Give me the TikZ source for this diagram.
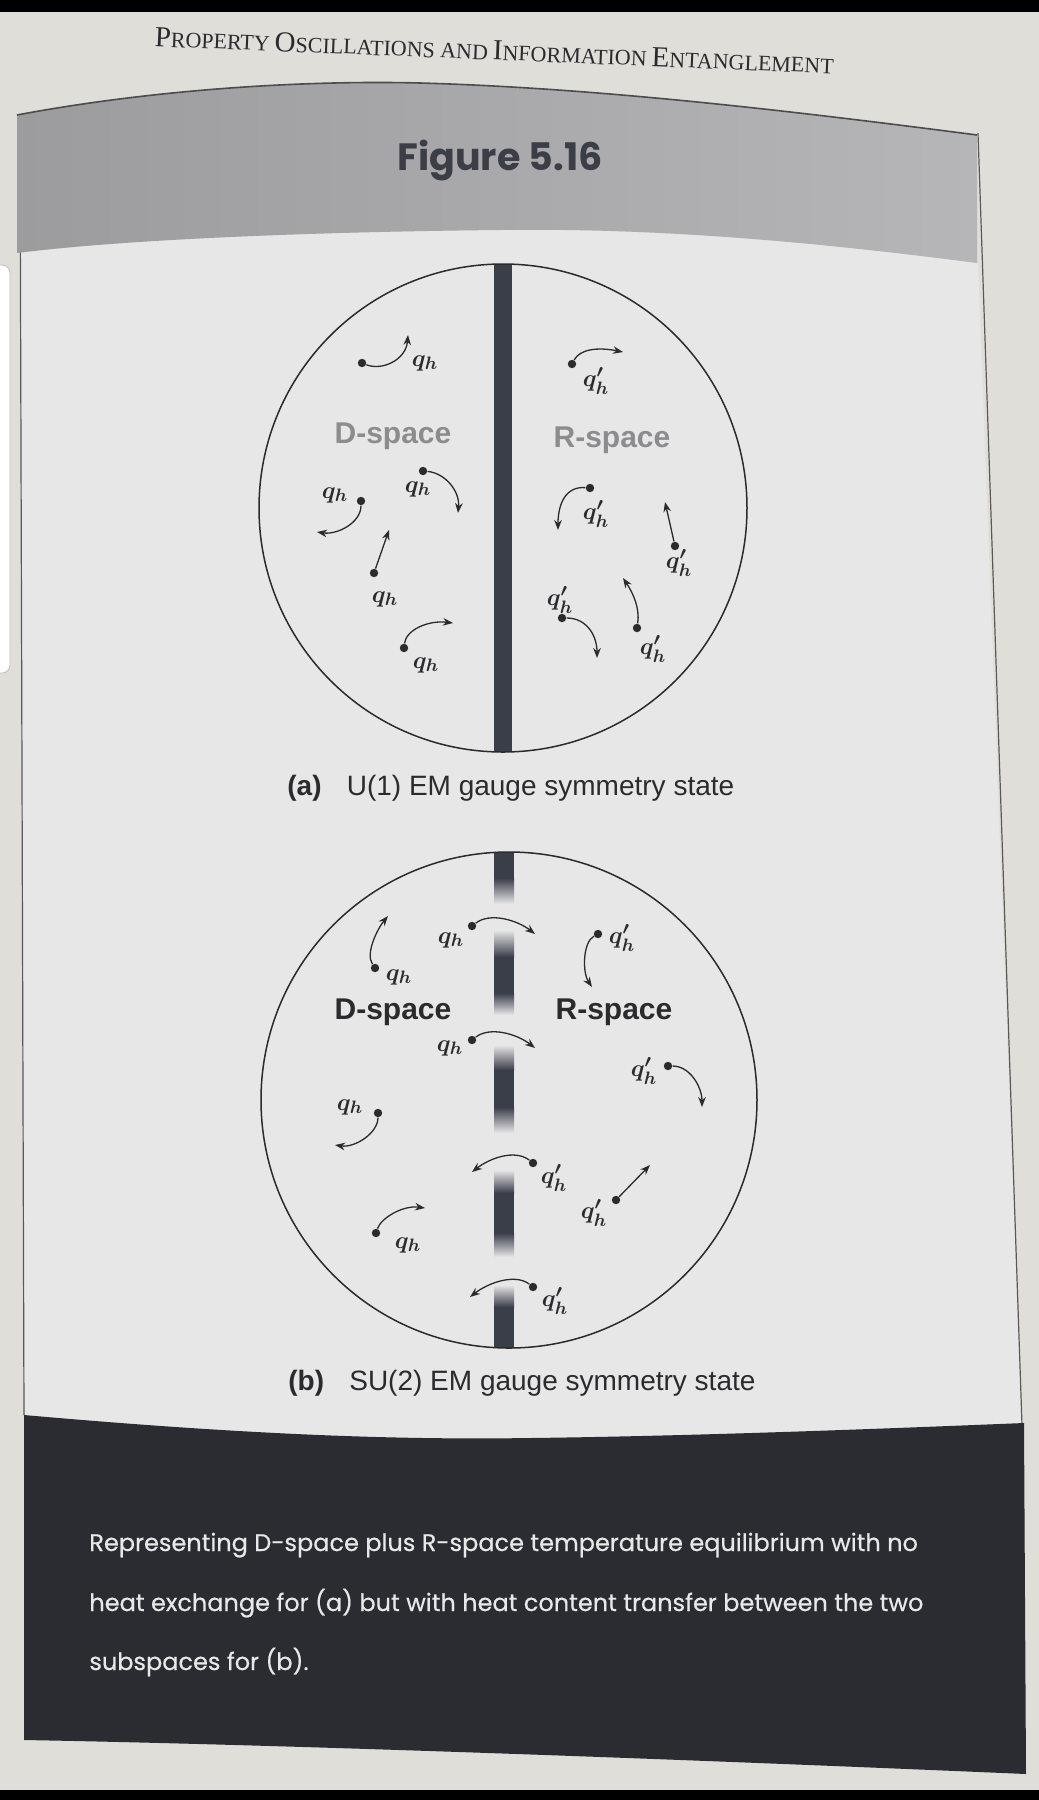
\documentclass[tikz,border=0pt]{standalone}
\usepackage{fontspec}
\usepackage{bm}
\usetikzlibrary{arrows.meta}
\newfontfamily\sansf{Liberation Sans}
\newfontfamily\futf{Poppins}
\newfontfamily\futm[FakeBold=0.5]{Poppins}
\newfontfamily\serf{Liberation Serif}
\definecolor{pagebg}{HTML}{E0DED9}
\definecolor{panelc}{HTML}{E7E7E8}
\definecolor{bandL}{HTML}{9C9C9E}
\definecolor{bandR}{HTML}{B6B6B8}
\definecolor{barc}{HTML}{3A3E49}
\definecolor{inkc}{HTML}{2B2B2E}
\definecolor{capbox}{HTML}{2A2C31}
\definecolor{captext}{HTML}{E8E8E8}
\definecolor{dimlab}{HTML}{8C8C8E}
\definecolor{figc}{HTML}{3B3E47}
\tikzset{
  dot/.style={circle, fill=inkc, inner sep=0pt, minimum size=4.2pt},
  arr/.style={-{Stealth[length=5pt,width=3.8pt]}, line width=0.65pt, draw=inkc},
  ql/.style={font=\boldmath\fontsize{13}{15}\selectfont, text=inkc, inner sep=0pt},
  spacelab/.style={font=\sansf\bfseries\fontsize{15}{18}\selectfont, inner sep=0pt},
  subcap/.style={font=\sansf\fontsize{14}{17}\selectfont, text=inkc, inner sep=0pt, anchor=base west},
  captxt/.style={font=\futm\fontsize{12}{14}\selectfont, text=captext, inner sep=0pt, anchor=base west},
  ring/.style={draw=inkc, line width=0.75pt},
}
\begin{document}
\begin{tikzpicture}[x=0.5pt, y=-0.5pt]
\useasboundingbox (0,0) rectangle (1039,1800);
% page
\fill[pagebg] (0,0) rectangle (1039,1800);
\fill[black] (0,0) rectangle (1039,12);
\fill[black] (0,1790) rectangle (1039,1800);
% header
\node[font=\serf, text=inkc, rotate=-2.3, anchor=base, inner sep=0pt] (hdr) at (494,60)
  {{\fontsize{14.5}{16}\selectfont P}{\fontsize{11}{13}\selectfont ROPERTY}
   {\fontsize{14.5}{16}\selectfont O}{\fontsize{11}{13}\selectfont SCILLATIONS AND}
   {\fontsize{14.5}{16}\selectfont I}{\fontsize{11}{13}\selectfont NFORMATION}
   {\fontsize{14.5}{16}\selectfont E}{\fontsize{11}{13}\selectfont NTANGLEMENT}};
% panel
\fill[panelc] (20,253) .. controls (120,240) and (300,232) .. (500,230)
   .. controls (650,228) and (800,240) .. (978,263)
   -- (1022,1425)
   .. controls (900,1428) and (700,1436) .. (530,1438)
   .. controls (400,1440) and (250,1435) .. (24,1415) -- cycle;
\draw[gray!70!black, line width=0.6pt] (20,130) -- (24,1415);
\draw[gray!70!black, line width=0.6pt] (978,133) -- (1022,1425);
% grey band
\shade[left color=bandL, right color=bandR]
  (17,115) .. controls (150,90) and (300,80) .. (420,83)
  .. controls (600,88) and (800,112) .. (977,135)
  -- (977,263)
  .. controls (800,240) and (650,228) .. (500,230)
  .. controls (300,232) and (120,240) .. (17,253) -- cycle;
\draw[gray!60!black, line width=0.8pt]
  (17,115) .. controls (150,90) and (300,80) .. (420,83)
  .. controls (600,88) and (800,112) .. (977,135);
\node[font=\futf\bfseries\fontsize{19}{22}\selectfont, text=figc, inner sep=0pt] (fig) at (500,160) {Figure 5.16};
% left tab
\fill[white, draw=gray!50, rounded corners=4pt] (-10,265) rectangle (10,673);
% caption box
\fill[capbox] (24,1415) .. controls (250,1435) and (400,1440) .. (530,1438)
   .. controls (700,1436) and (900,1428) .. (1024,1423)
   -- (1026,1774)
   .. controls (700,1760) and (300,1745) .. (24,1740) -- cycle;
\node[captxt] (c1) at (89,1551) {Representing D-space plus R-space temperature equilibrium with no};
\node[captxt] (c2) at (89,1611) {heat exchange for (a) but with heat content transfer between the two};
\node[captxt] (c3) at (89,1670) {subspaces for (b).};

% ================= (a)
\begin{scope}
\clip (503,508) circle [radius=244];
\fill[barc] (494,260) rectangle (512,760);
\end{scope}
\draw[ring] (503,508) circle [radius=244];
\node[spacelab, text=dimlab] (dA) at (393,436) {D-space};
\node[spacelab, text=dimlab] (rA) at (612,440) {R-space};
\node[subcap] (capA) at (287,795) {\textbf{(a)}\hspace{0.9em}U(1) EM gauge symmetry state};

% particles (a)
\node[dot] (a1) at (362,363) {};  \coordinate (a1t) at (408,335);
\node[dot] (a2) at (423,471) {};  \coordinate (a2t) at (458,513);
\node[dot] (a3) at (361,501) {};  \coordinate (a3t) at (317,532);
\node[dot] (a4) at (374,573) {};  \coordinate (a4t) at (389,530);
\node[dot] (a5) at (404,648) {};  \coordinate (a5t) at (453,623);
\node[dot] (a6) at (572,364) {};  \coordinate (a6t) at (623,352);
\node[dot] (a7) at (590,488) {};  \coordinate (a7t) at (558,530);
\node[dot] (a8) at (675,546) {};  \coordinate (a8t) at (665,502);
\node[dot] (a9) at (562,618) {};  \coordinate (a9t) at (597,658);
\node[dot] (a10) at (637,628) {}; \coordinate (a10t) at (623,578);
\draw[arr] (a1) .. controls +(20,8) and +(-2,25) .. (a1t);
\draw[arr] (a2) .. controls +(22,2) and +(2,-22) .. (a2t);
\draw[arr] (a3) .. controls +(0,22) and +(20,3) .. (a3t);
\draw[arr] (a4) -- (a4t);
\draw[arr] (a5) .. controls +(2,-18) and +(-25,-3) .. (a5t);
\draw[arr] (a6) .. controls +(8,-15) and +(-25,-5) .. (a6t);
\draw[arr] (a7) .. controls +(-25,-2) and +(0,-25) .. (a7t);
\draw[arr] (a8) -- (a8t);
\draw[arr] (a9) .. controls +(25,0) and +(0,-22) .. (a9t);
\draw[arr] (a10) .. controls +(3,-20) and +(10,15) .. (a10t);
\node[ql] (la1) at (425,363) {$\bm{q_h}$};
\node[ql] (la2) at (418,489) {$\bm{q_h}$};
\node[ql] (la3) at (335,495) {$\bm{q_h}$};
\node[ql] (la4) at (385,599) {$\bm{q_h}$};
\node[ql] (la5) at (426,665) {$\bm{q_h}$};
\node[ql] (la6) at (596,381) {$\bm{q_h^{\prime}}$};
\node[ql] (la7) at (596,514) {$\bm{q_h^{\prime}}$};
\node[ql] (la8) at (679,563) {$\bm{q_h^{\prime}}$};
\node[ql] (la9) at (560,600) {$\bm{q_h^{\prime}}$};
\node[ql] (la10) at (653,649) {$\bm{q_h^{\prime}}$};

% ================= (b)
\begin{scope}
\clip (509,1100) circle [radius=248];
\fill[barc] (494,845) rectangle (514,878);
\shade[top color=barc, bottom color=panelc] (494,878) rectangle (514,904);
\shade[top color=panelc, bottom color=barc] (494,930) rectangle (514,957);
\fill[barc] (494,957) rectangle (514,993);
\shade[top color=barc, bottom color=panelc] (494,993) rectangle (514,1015);
\shade[top color=panelc, bottom color=barc] (494,1045) rectangle (514,1070);
\fill[barc] (494,1070) rectangle (514,1107);
\shade[top color=barc, bottom color=panelc] (494,1107) rectangle (514,1133);
\shade[top color=panelc, bottom color=barc] (494,1170) rectangle (514,1193);
\fill[barc] (494,1193) rectangle (514,1233);
\shade[top color=barc, bottom color=panelc] (494,1233) rectangle (514,1257);
\shade[top color=panelc, bottom color=barc] (494,1285) rectangle (514,1307);
\fill[barc] (494,1307) rectangle (514,1355);
\end{scope}
\draw[ring] (509,1100) circle [radius=248];
\node[spacelab, text=inkc] (dB) at (393,1012) {D-space};
\node[spacelab, text=inkc] (rB) at (614,1012) {R-space};
\node[subcap] (capB) at (288,1390) {\textbf{(b)}\hspace{0.9em}SU(2) EM gauge symmetry state};

\node[dot] (b1) at (375,968) {};  \coordinate (b1t) at (388,916);
\node[dot] (b2) at (472,926) {};  \coordinate (b2t) at (535,934);
\node[dot] (b3) at (472,1040) {}; \coordinate (b3t) at (535,1048);
\node[dot] (b4) at (378,1113) {}; \coordinate (b4t) at (335,1145);
\node[dot] (b5) at (376,1233) {}; \coordinate (b5t) at (425,1208);
\node[dot] (b6) at (598,934) {};  \coordinate (b6t) at (592,987);
\node[dot] (b7) at (668,1066) {}; \coordinate (b7t) at (702,1107);
\node[dot] (b8) at (533,1163) {}; \coordinate (b8t) at (472,1172);
\node[dot] (b9) at (616,1200) {}; \coordinate (b9t) at (650,1165);
\node[dot] (b10) at (533,1287) {}; \coordinate (b10t) at (470,1297);
\draw[arr] (b1) .. controls +(-10,-15) and +(-10,12) .. (b1t);
\draw[arr] (b2) .. controls +(18,-14) and +(-18,-14) .. (b2t);
\draw[arr] (b3) .. controls +(18,-14) and +(-18,-14) .. (b3t);
\draw[arr] (b4) .. controls +(0,20) and +(20,3) .. (b4t);
\draw[arr] (b5) .. controls +(5,-15) and +(-22,-3) .. (b5t);
\draw[arr] (b6) .. controls +(-15,8) and +(-10,-15) .. (b6t);
\draw[arr] (b7) .. controls +(22,0) and +(0,-20) .. (b7t);
\draw[arr] (b8) .. controls +(-18,-14) and +(18,-14) .. (b8t);
\draw[arr] (b9) -- (b9t);
\draw[arr] (b10) .. controls +(-18,-14) and +(18,-14) .. (b10t);
\node[ql] (lb1) at (399,977) {$\bm{q_h}$};
\node[ql] (lb2) at (451,940) {$\bm{q_h}$};
\node[ql] (lb3) at (450,1048) {$\bm{q_h}$};
\node[ql] (lb4) at (350,1107) {$\bm{q_h}$};
\node[ql] (lb5) at (408,1245) {$\bm{q_h}$};
\node[ql] (lb6) at (622,938) {$\bm{q_h^{\prime}}$};
\node[ql] (lb7) at (644,1071) {$\bm{q_h^{\prime}}$};
\node[ql] (lb8) at (554,1178) {$\bm{q_h^{\prime}}$};
\node[ql] (lb9) at (594,1213) {$\bm{q_h^{\prime}}$};
\node[ql] (lb10) at (555,1301) {$\bm{q_h^{\prime}}$};
\end{tikzpicture}
\end{document}
